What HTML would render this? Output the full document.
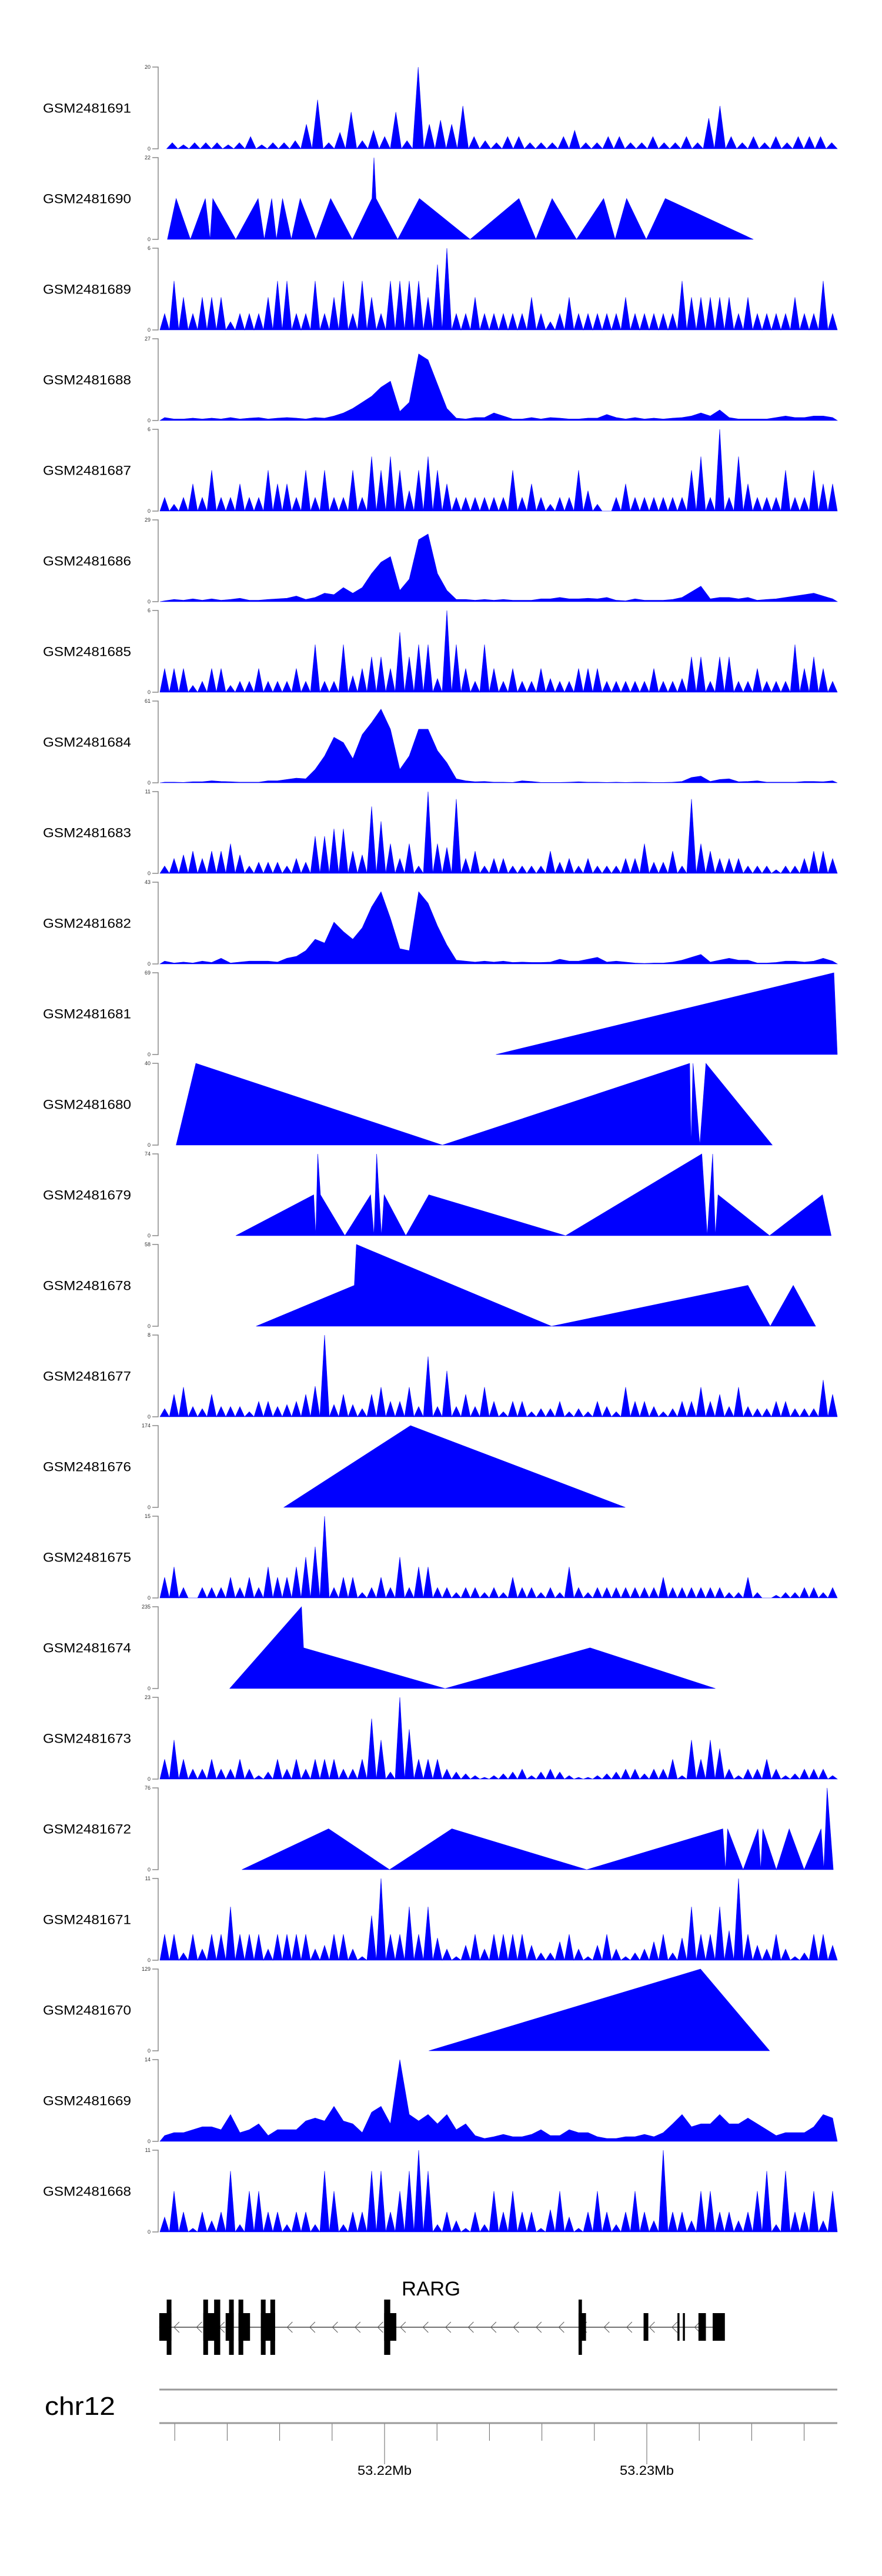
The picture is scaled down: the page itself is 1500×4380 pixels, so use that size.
<!DOCTYPE html>
<html><head><meta charset="utf-8"><title>RARG coverage tracks</title>
<style>
html,body{margin:0;padding:0;background:#fff;}
svg{display:block;font-family:"Liberation Sans",Arial,sans-serif;}
</style></head>
<body>
<svg id="chart" width="1500" height="4380" viewBox="0 0 1500 4380" xmlns="http://www.w3.org/2000/svg">
<rect width="1500" height="4380" fill="#fff"/>
<g id="tracks"></g>
<g id="gene"></g>
<g id="axis"></g>
</svg>
<script>
// ---- data ----
const sampleNames = ["GSM2481691","GSM2481690","GSM2481689","GSM2481688","GSM2481687","GSM2481686","GSM2481685","GSM2481684","GSM2481683","GSM2481682","GSM2481681","GSM2481680","GSM2481679","GSM2481678","GSM2481677","GSM2481676","GSM2481675","GSM2481674","GSM2481673","GSM2481672","GSM2481671","GSM2481670","GSM2481669","GSM2481668"];
const yMax = [20,22,6,27,6,29,6,61,11,43,69,40,74,58,8,174,15,235,23,76,11,129,14,11];
const trackType = ["spiky","points","spiky","smooth","spiky","smooth","spiky","smooth","spiky","smooth","points","points","points","points","spiky","points","spiky","points","spiky","points","spiky","points","smooth","spiky"];

const cov1691 = [1.5,1,1.5,1.5,1.5,1,1.5,3,1,1.5,1.5,2,6,12,1.5,4,9,2,4.5,3,9,2,20,6,7,6,10.5,3,2,1.5,3,3,1.5,1.5,1.5,3,4.5,1.5,1.5,3,3,1.5,1.5,3,1.5,1.5,3,1.5,7.5,10.5,3,1.5,3,1.5,3,1.5,3,3,3,1.5];
const cov1690 = [[1.1,0],[2.4,11],[4.5,0],[6.7,11],[7.4,0],[7.8,11],[11.2,0],[14.5,11],[15.4,0],[16.5,11],[17.2,0],[18.1,11],[19.4,0],[20.7,11],[23.0,0],[25.2,11],[28.4,0],[31.3,11],[31.6,22],[31.9,11],[35.1,0],[38.3,11],[45.8,0],[53.0,11],[55.5,0],[57.9,11],[61.5,0],[65.5,11],[67.2,0],[68.9,11],[71.8,0],[74.6,11],[87.6,0]];
const cov1689 = [1.2,3.6,2.4,1.2,2.4,2.4,2.4,0.6,1.2,1.2,1.2,2.4,3.6,3.6,1.2,1.2,3.6,1.2,2.4,3.6,1.2,3.6,2.4,1.2,3.6,3.6,3.6,3.6,2.4,4.8,6,1.2,1.2,2.4,1.2,1.2,1.2,1.2,1.2,2.4,1.2,0.6,1.2,2.4,1.2,1.2,1.2,1.2,1.2,2.4,1.2,1.2,1.2,1.2,1.2,3.6,2.4,2.4,2.4,2.4,2.4,1.2,2.4,1.2,1.2,1.2,1.2,2.4,1.2,1.2,3.6,1.2];
const cov1688 = [1,0.5,0.5,0.8,0.5,0.8,0.5,1,0.5,0.8,1,0.5,0.8,1,0.8,0.5,1,0.8,1.5,2.5,4,6,8,11,13,3,6,22,20,12,4,0.8,0.5,1,1,2.5,1.5,0.5,0.5,1,0.5,1,0.8,0.5,0.5,0.8,0.8,2,1,0.5,1,0.5,0.8,0.5,0.8,1,1.5,2.5,1.5,3.5,1,0.5,0.5,0.5,0.5,1,1.5,1,1,1.5,1.5,1];
const cov1687 = [1,0.5,1,2,1,3,1,1,2,1,1,3,2,2,1,3,1,3,1,1,3,1,4,3,4,3,1.5,3,4,3,2,1,1,1,1,1,1,3,1,2,1,0.5,1,1,3,1.5,0.5,0,1,2,1,1,1,1,1,1,3,4,1,6,1,4,2,1,1,1,3,1,1,3,2,2];
const cov1686 = [0.3,0.8,0.5,1,0.5,1,0.5,0.8,1.2,0.5,0.5,0.8,1,1.2,2,0.8,1.5,3,2.5,5,3,5,10,14,16,4,8,22,24,10,4,0.8,0.8,0.5,0.8,0.5,0.8,0.5,0.5,0.5,1,1,1.5,1,1,1.2,1,1.5,0.5,0.3,1,0.5,0.5,0.5,0.8,1.5,3.5,5.5,1,1.5,1.5,1,1.5,0.5,0.8,1,1.5,2,2.5,3,2,1];
const cov1685 = [1.75,1.75,1.75,0.5,0.8,1.75,1.75,0.5,0.8,0.8,1.75,0.8,0.8,0.8,1.75,0.8,3.5,0.8,0.8,3.5,1.2,1.75,2.6,2.6,1.75,4.4,2.6,3.5,3.5,1,6,3.5,1.75,0.8,3.5,1.75,0.8,1.75,0.8,0.8,1.75,1,0.8,0.8,1.75,1.75,1.75,0.8,0.8,0.8,0.8,0.8,1.75,0.8,0.8,1,2.6,2.6,0.8,2.6,2.6,0.8,0.8,1.75,0.8,0.8,0.8,3.5,1.75,2.6,1.75,0.8];
const cov1684 = [0.5,0.5,0.3,0.8,0.8,1.5,1,0.8,0.5,0.5,0.5,1.5,1.5,2.5,3.5,3,10,20,34,30,18,36,45,55,40,10,20,40,40,24,15,3,1.5,0.8,1,0.5,0.5,0.3,1.5,1,0.3,0.3,0.3,0.5,0.8,0.5,0.5,0.3,0.5,0.3,0.5,0.5,0.3,0.3,0.5,1,4,5,1,2.5,3,0.8,1,1.5,0.5,0.5,0.5,0.5,1,1,0.8,1.5];
const cov1683 = [1,2,2.5,3,2,3,3,4,2.5,1,1.5,1.5,1.5,1,2,1.5,5,5,6,6,3,2.5,9,7,4,2,4,1,11,4,3.5,10,2,3,1,2,2,1,1,1,1,3,1.5,2,1,2,1,1,1,2,2,4,1.5,1.5,3,1,10,4,3,2,2,2,1,1,1,0.5,1,1,2,3,3,2];
const cov1682 = [1.5,0.5,1,0.5,1.5,0.8,3,0.5,1,1.5,1.5,1.5,1,3,4,7,13,11,22,17,13,19,30,38,24,8,7,38,32,20,10,2,1.5,1,1.5,1,1.5,0.8,1,0.8,0.8,1,2.5,1.5,1.5,2.5,3.5,1,1.5,1,0.5,0.3,0.5,0.5,1,2,3.5,5,1,2,3,2,2,0.5,0.5,0.8,1.5,1.5,1,1.5,3,1.5];
const cov1681 = [[49.6,0],[99.5,69],[100,0]];
const cov1680 = [[2.4,0],[5.3,40],[41.7,0],[78.2,40],[78.4,0],[78.7,40],[79.7,0],[80.6,40],[90.4,0]];
const cov1679 = [[11.2,0],[22.7,37],[23.0,0],[23.3,74],[23.7,37],[27.3,0],[31.1,37],[31.6,0],[32.0,74],[32.7,0],[33.1,37],[36.3,0],[39.7,37],[59.9,0],[80.0,74],[80.8,0],[81.6,74],[82.0,0],[82.4,37],[90.0,0],[97.8,37],[99.1,0]];
const cov1678 = [[14.2,0],[28.7,29],[29.0,58],[57.8,0],[86.8,29],[90.1,0],[93.5,29],[96.8,0]];
const cov1677 = [0.8,2.2,2.9,1,0.8,2.2,1,1,1,0.5,1.5,1.5,1,1.2,1.5,2.2,3,8,1.2,2.2,1.2,0.8,2.2,2.9,1.5,1.5,2.9,1,5.9,1,4.5,1,2.2,1,2.9,1.5,0.5,1.5,1.5,0.5,0.8,0.8,1.5,0.5,0.8,0.5,1.5,1,0.5,2.9,1.5,1.5,1,0.5,0.8,1.5,1.5,2.9,1.5,2.2,1,2.9,1,0.8,0.8,1.5,1.5,0.8,0.8,0.8,3.6,2.2];
const cov1676 = [[18.3,0],[37.0,174],[68.7,0]];
const cov1675 = [3.8,5.7,1.9,0,1.9,1.9,1.9,3.8,1.9,3.8,1.9,5.7,3.8,3.8,5.7,7.5,9.4,15,1.9,3.8,3.8,1,1.9,3.8,1.9,7.5,1.9,5.7,5.7,1.9,1.9,1,1.9,1.9,1,1.9,1,3.8,1.9,1.9,1,1.9,1,5.7,1.9,1,1.9,1.9,1.9,1.9,1.9,1.9,1.9,3.8,1.9,1.9,1.9,1.9,1.9,1.9,1,1,3.8,1,0,0.5,1,1,1.9,1.9,1,1.9];
const cov1674 = [[10.3,0],[20.9,235],[21.2,117],[42.1,0],[63.5,117],[82.0,0]];
const cov1673 = [5.6,11,5.6,2.8,2.8,5.6,2.8,2.8,5.6,2.8,1,2,5.6,2.8,5.6,2.8,5.6,5.6,5.6,2.8,2.8,5.6,17,11,2,23,14,5.6,5.6,5.6,2.8,2,1.5,1,0.5,1,1.5,2,2.8,1,2,2.8,2,1,0.5,0.5,1,1.5,2,2.8,2.8,1.5,2.8,2.8,5.6,1,11,5.6,11,8.6,2.8,1,2.8,2.8,5.6,2.8,1,1.5,2.8,2.8,2.8,1];
const cov1672 = [[12.1,0],[24.9,38],[33.9,0],[43.1,38],[63.0,0],[83.1,38],[83.5,0],[83.8,38],[86.1,0],[88.3,38],[88.7,0],[89.0,38],[91.0,0],[92.9,38],[95.1,0],[97.6,38],[98.0,0],[98.5,76],[99.4,0]];
const cov1671 = [3.5,3.5,1,3.5,1.5,3.5,3.5,7.2,3.5,3.5,3.5,1.5,3.5,3.5,3.5,3.5,1.5,2,3.5,3.5,1.5,0.5,6,11,3.5,3.5,7.2,3.5,7.2,3,1.5,0.5,2,3.5,1.5,3.5,3.5,3.5,3.5,2,1,1,2.5,3.5,1.5,0.5,2,3.5,1.5,0.5,1,1.5,2.5,3.5,1,3,7.2,3.5,3.5,7.2,4,11,3.5,2,1.5,3.5,1.5,0.5,1,3.5,3.5,2];
const cov1670 = [[39.7,0],[79.8,129],[90.0,0]];
const cov1669 = [1,1.5,1.5,2,2.5,2.5,2,4.6,1.5,2,3,1,2,2,2,3.5,4,3.5,6,3.5,3,1.5,5,6,3,14,4.6,3.5,4.6,3,4.6,2,3,1,0.5,0.8,1.2,0.8,0.8,1.2,2,1,1,2,1.5,1.5,0.8,0.5,0.5,0.8,0.8,1.2,0.8,1.5,3,4.6,2.5,3,3,4.6,3,3,4,3,2,1,1.5,1.5,1.5,2.5,4.6,4];
const cov1668 = [2,5.5,2.7,0.5,2.7,1.5,2.7,8.2,1,5.5,5.5,2.7,2.7,1,2.7,2.7,1,8.2,5.5,1,2.7,2.7,8.2,8.2,2.7,5.5,8.2,11,8.2,1,2.7,1.5,0.5,2.7,1,5.5,2.7,5.5,2.7,2.7,0.5,3,5.5,2,0.5,2.7,5.5,2.7,1,2.7,5.5,2.7,1.5,11,2.7,2.7,1.5,5.5,5.5,2.7,2.7,1.5,2.7,5.5,8.2,1,8.2,2.7,2.7,5.5,1.5,5.5];

const coverage = [cov1691,cov1690,cov1689,cov1688,cov1687,cov1686,cov1685,cov1684,cov1683,cov1682,cov1681,cov1680,cov1679,cov1678,cov1677,cov1676,cov1675,cov1674,cov1673,cov1672,cov1671,cov1670,cov1669,cov1668];
const binStart = [1,0,0,0,0,0,0,0,0,0,0,0,0,0,0,0,0,0,0,0,0,0,0,0];

// gene model (window-percent coordinates)
const exonStart = [-0.1,6.4,9.7,11.6,14.9,33.1,61.8,71.4,76.4,77.2,79.5,81.6];
const exonEnd   = [1.7,8.9,10.9,13.3,17.0,34.9,62.9,72.1,76.7,77.5,80.6,83.4];
const tallStart = [1.0,6.4,8.0,10.2,11.6,14.9,16.3,33.1,61.8];
const tallEnd   = [1.7,7.1,8.9,10.9,12.3,15.6,17.0,34.0,62.3];
const geneSpan  = [-0.1,81.6];
const geneName  = "RARG";

// genome axis (kb relative to 53.22 Mb)
const minorTicksKb = [-8,-6,-4,-2,0,2,4,6,8,10,12,14,16];
const majorTicksKb = [0,10];
const majorLabels = ["53.22Mb","53.23Mb"];
const chromName = "chr12";

// ---- scales ----
const NS = "http://www.w3.org/2000/svg";
const X0 = 272, XW = 11.52;
const X = p => X0 + p * XW;
const kbX = kb => 654 + kb * 44.6;
const PANEL_TOP = 114, PITCH = 154, PANEL_H = 139;
const zeroY = k => PANEL_TOP + PANEL_H + PITCH * k;
const Y = (k, v) => zeroY(k) - v / yMax[k] * PANEL_H;

function mk(tag, attrs, parent){
  const el = document.createElementNS(NS, tag);
  for (const a in attrs) el.setAttribute(a, attrs[a]);
  parent.appendChild(el);
  return el;
}

const tracksG = document.getElementById('tracks');
sampleNames.forEach((name, k) => {
  const g = mk('g', {}, tracksG);
  
  

  const lbl = mk('text', {x: 73, y: zeroY(k) - PANEL_H/2 + 8, 'font-size': 22, fill: '#000', textLength: 150, lengthAdjust: 'spacingAndGlyphs'}, g);
  lbl.textContent = name;
  
  

  const ax = mk('path', {d: `M259 ${Y(k,yMax[k])} H269 V${zeroY(k)} H259`, stroke: '#888', 'stroke-width': 1.5, fill: 'none'}, g);
  
  
  const tTop = mk('text', {x: 256, y: Y(k,yMax[k]) + 3, 'font-size': 9, 'text-anchor': 'end', fill: '#333'}, g);
  tTop.textContent = yMax[k];
  
  
  const tZero = mk('text', {x: 256, y: zeroY(k) + 3, 'font-size': 9, 'text-anchor': 'end', fill: '#333'}, g);
  tZero.textContent = '0';
  
  

  const d = coverage[k];
  let pts = [];
  if (trackType[k] === 'points') {
    pts = d.map(([p, v]) => [p, v]);
  } else {
    const p0 = binStart[k], p1 = 100, w = (p1 - p0) / d.length;
    pts.push([p0, 0]);
    d.forEach((v, i) => {
      pts.push([p0 + (i + 0.5) * w, v]);
      if (trackType[k] === 'spiky') pts.push([p0 + (i + 1) * w, 0]);
    });
    pts.push([p1, 0]);
  }
  const poly = mk('polygon', {points: pts.map(([p, v]) => X(p).toFixed(1) + ',' + Y(k, v).toFixed(1)).join(' ') + ` ${X(pts[pts.length-1][0]).toFixed(1)},${zeroY(k)} ${X(pts[0][0]).toFixed(1)},${zeroY(k)}`, fill: '#0000ff', stroke: '#0000ff', 'stroke-width': 0.6}, g);
  
  
});

// ---- gene track ----
const geneG = document.getElementById('gene');
const GY = 3957;
const line = mk('line', {x1: X(geneSpan[0]), x2: X(geneSpan[1]), y1: GY, y2: GY, stroke: '#444', 'stroke-width': 1.5}, geneG);


for (let x = X(geneSpan[0]) + 25; x < X(geneSpan[1]) - 10; x += 38.5) {
  const c = mk('path', {d: `M${x+9} ${GY-9} L${x} ${GY} L${x+9} ${GY+9}`, stroke: '#555', 'stroke-width': 1, fill: 'none'}, geneG);
  
  
}
exonStart.forEach((s, i) => {
  const r = mk('rect', {x: X(s), y: 3933, width: X(exonEnd[i]) - X(s), height: 47, fill: '#000'}, geneG);
  
  
});
tallStart.forEach((s, i) => {
  const r = mk('rect', {x: X(s), y: 3910, width: X(tallEnd[i]) - X(s), height: 94, fill: '#000'}, geneG);
  
  
});
const gl = mk('text', {x: 733, y: 3903, 'font-size': 34, 'text-anchor': 'middle', fill: '#000', textLength: 100, lengthAdjust: 'spacingAndGlyphs'}, geneG);
gl.textContent = geneName;



// ---- genome axis ----
const axG = document.getElementById('axis');
[4063, 4120].forEach((y, i) => {
  const l = mk('line', {x1: 271, x2: 1424, y1: y, y2: y, stroke: '#999', 'stroke-width': 3}, axG);
  
  
});
minorTicksKb.forEach(kb => {
  const major = majorTicksKb.includes(kb);
  const t = mk('line', {x1: kbX(kb), x2: kbX(kb), y1: 4121, y2: major ? 4190 : 4150, stroke: '#666', 'stroke-width': 1}, axG);
  
  
});
majorTicksKb.forEach((kb, i) => {
  const t = mk('text', {x: kbX(kb), y: 4208, 'font-size': 22, 'text-anchor': 'middle', fill: '#000', textLength: 92, lengthAdjust: 'spacingAndGlyphs'}, axG);
  t.textContent = majorLabels[i];
  
  
});
const ch = mk('text', {x: 76, y: 4106, 'font-size': 44, fill: '#000', textLength: 120, lengthAdjust: 'spacingAndGlyphs'}, axG);
ch.textContent = chromName;


</script>
</body></html>
